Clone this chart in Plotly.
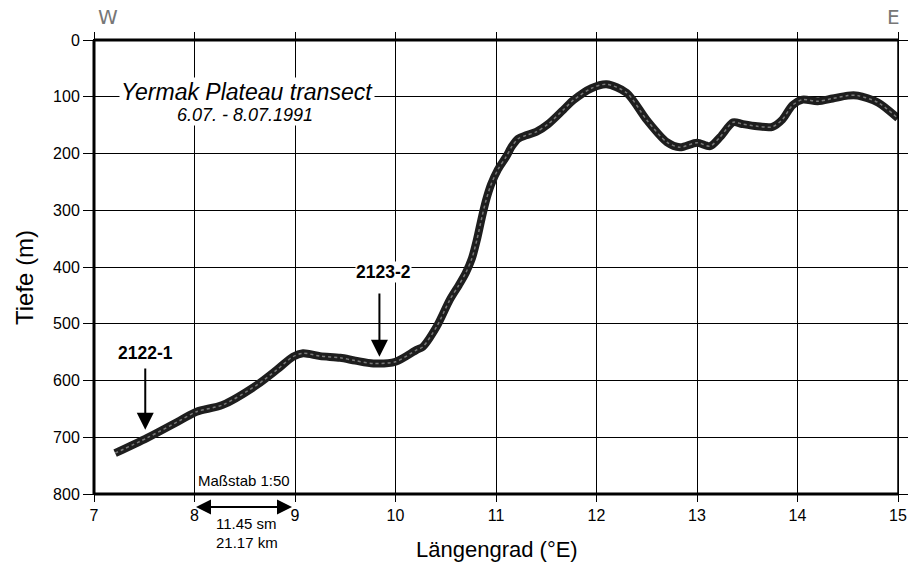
import plotly.graph_objects as go

lon = [7.21, 7.53, 7.86, 8.02, 8.28, 8.62, 8.82, 8.98, 9.08, 9.25, 9.45, 9.6, 9.78, 10.0,
       10.21, 10.27, 10.41, 10.54, 10.63, 10.70, 10.76, 10.81, 10.86, 10.90, 10.95, 11.02, 11.10,
       11.16, 11.22, 11.30, 11.40,
       11.52, 11.67, 11.77, 11.95, 12.10, 12.30, 12.50, 12.70, 12.83, 13.0, 13.13, 13.23,
       13.36, 13.45, 13.6, 13.75, 13.85, 13.95, 14.05, 14.2, 14.35, 14.5, 14.6, 14.8, 15.0]
depth = [728, 701, 670, 655, 643, 608, 581, 558, 552, 557, 560, 565, 570, 567,
         546, 541, 505, 458, 432, 410, 385, 352, 312, 283, 255, 228, 206,
         187, 174, 168, 162,
         148, 123, 106, 85, 78, 93, 141, 180, 189, 181, 187, 171,
         145, 148, 152, 153, 140, 115, 105, 108, 103, 98, 98, 110, 138]

stations = ["2122-1", "2123-2"]
station_lon = [7.51, 9.84]
station_tip = [687, 558]

x_ticks = [7, 8, 9, 10, 11, 12, 13, 14, 15]
y_ticks = [0, 100, 200, 300, 400, 500, 600, 700, 800]

FONT = "Liberation Sans, Arial, sans-serif"

fig = go.Figure()
fig.add_trace(go.Scatter(x=lon, y=depth, mode="lines", line=dict(color="#1e1e1e", width=8, shape="spline", smoothing=0.8),
                         hoverinfo="skip", showlegend=False))
fig.add_trace(go.Scatter(x=lon, y=depth, mode="lines", line=dict(color="#7a7a7a", width=1.5, shape="spline", smoothing=0.8, dash="dot"),
                         hoverinfo="skip", showlegend=False))

def px_x(p):
    return (p - 94) / 804

def px_y(p):
    return (494 - p) / 454

ann = []
# title
ann.append(dict(x=px_x(247), y=px_y(92), xref="paper", yref="paper", xanchor="center", yanchor="middle",
                text="<i>Yermak Plateau transect</i>",
                showarrow=False, font=dict(family=FONT, size=23, color="black"), bgcolor="white", borderpad=1))
ann.append(dict(x=px_x(245), y=px_y(115), xref="paper", yref="paper", xanchor="center", yanchor="middle",
                text="<i>6.07. - 8.07.1991</i>",
                showarrow=False, font=dict(family=FONT, size=18, color="black"), bgcolor="white", borderpad=0))
# station arrows
label_y = [353, 272]
label_x = [7.51, 9.88]
tail_y = [367, 292]
for name, sx, tip, ly, ty, lx in zip(stations, station_lon, station_tip, label_y, tail_y, label_x):
    tip_px = 40 + tip * 0.5675
    ann.append(dict(x=sx, y=tip, xref="x", yref="y", text="", showarrow=True, ax=0, ay=ty - tip_px,
                    arrowhead=2, arrowsize=1.7, arrowwidth=2, arrowcolor="black"))
    ann.append(dict(x=lx, y=(ly - 40) / 0.5675, xref="x", yref="y", text="<b>%s</b>" % name,
                    xanchor="center", yanchor="middle",
                    showarrow=False, font=dict(family=FONT, size=17.5, color="black"), bgcolor="white", borderpad=0))
# scale bar
ann.append(dict(x=8.97, y=px_y(507), xref="x", yref="paper", ax=8.0, ay=0, axref="x", ayref="pixel",
                text="", showarrow=True, arrowhead=2, startarrowhead=2, arrowside="end+start", arrowsize=1.5,
                startarrowsize=1.5, arrowwidth=2, arrowcolor="black"))
ann.append(dict(x=8.49, y=(480 - 40) / 0.5675, xref="x", yref="y", text="Maßstab 1:50", showarrow=False,
                xanchor="center", yanchor="middle",
                font=dict(family=FONT, size=15, color="black"), bgcolor="white", borderpad=0))
ann.append(dict(x=8.52, y=px_y(523), xref="x", yref="paper", text="11.45 sm", showarrow=False,
                xanchor="center", yanchor="middle", font=dict(family=FONT, size=15, color="black")))
ann.append(dict(x=8.52, y=px_y(542), xref="x", yref="paper", text="21.17 km", showarrow=False,
                xanchor="center", yanchor="middle", font=dict(family=FONT, size=15, color="black")))
# W / E
for letter, px in (("W", 108), ("E", 893)):
    ann.append(dict(x=px_x(px), y=px_y(17), xref="paper", yref="paper", text=letter,
                    showarrow=False, xanchor="center", yanchor="middle",
                    font=dict(family="DejaVu Sans, sans-serif", size=20, color="#777")))
# axis titles
ann.append(dict(x=px_x(497), y=px_y(549), xref="paper", yref="paper", text="Längengrad (°E)", showarrow=False,
                xanchor="center", yanchor="middle", font=dict(family=FONT, size=22, color="black")))
ann.append(dict(x=px_x(24), y=px_y(278), xref="paper", yref="paper", text="Tiefe (m)", showarrow=False,
                textangle=-90, xanchor="center", yanchor="middle", font=dict(family=FONT, size=24, color="black")))

shapes = [
    dict(type="line", xref="paper", yref="paper", x0=0, x1=0, y0=0, y1=1, line=dict(color="black", width=3)),
    dict(type="line", xref="paper", yref="paper", x0=0, x1=1, y0=1, y1=1, line=dict(color="black", width=3)),
    dict(type="line", xref="paper", yref="paper", x0=0, x1=1, y0=0, y1=0, line=dict(color="black", width=3)),
    dict(type="line", xref="paper", yref="paper", x0=1, x1=1, y0=0, y1=1, line=dict(color="black", width=1.5)),
]

fig.update_layout(
    width=908, height=566, margin=dict(l=94, r=10, t=40, b=72),
    paper_bgcolor="white", plot_bgcolor="white",
    font=dict(family=FONT, size=16, color="black"),
    annotations=ann, shapes=shapes, showlegend=False,
    xaxis=dict(range=[7, 15], tickvals=x_ticks, ticktext=[str(v) for v in x_ticks],
               showgrid=True, gridcolor="black", gridwidth=1, zeroline=False, automargin=False,
               showline=True, linecolor="black", linewidth=1, mirror="ticks",
               ticks="outside", ticklen=7, tickcolor="black", tickwidth=1,
               tickfont=dict(family=FONT, size=16)),
    yaxis=dict(range=[800, 0], tickvals=y_ticks, ticktext=[str(v) for v in y_ticks],
               showgrid=True, gridcolor="black", gridwidth=1, zeroline=False, automargin=False,
               showline=True, linecolor="black", linewidth=1, mirror="ticks",
               ticks="outside", ticklen=10, tickcolor="black", tickwidth=1,
               tickfont=dict(family=FONT, size=16)),
)

fig.write_html("out.html")
